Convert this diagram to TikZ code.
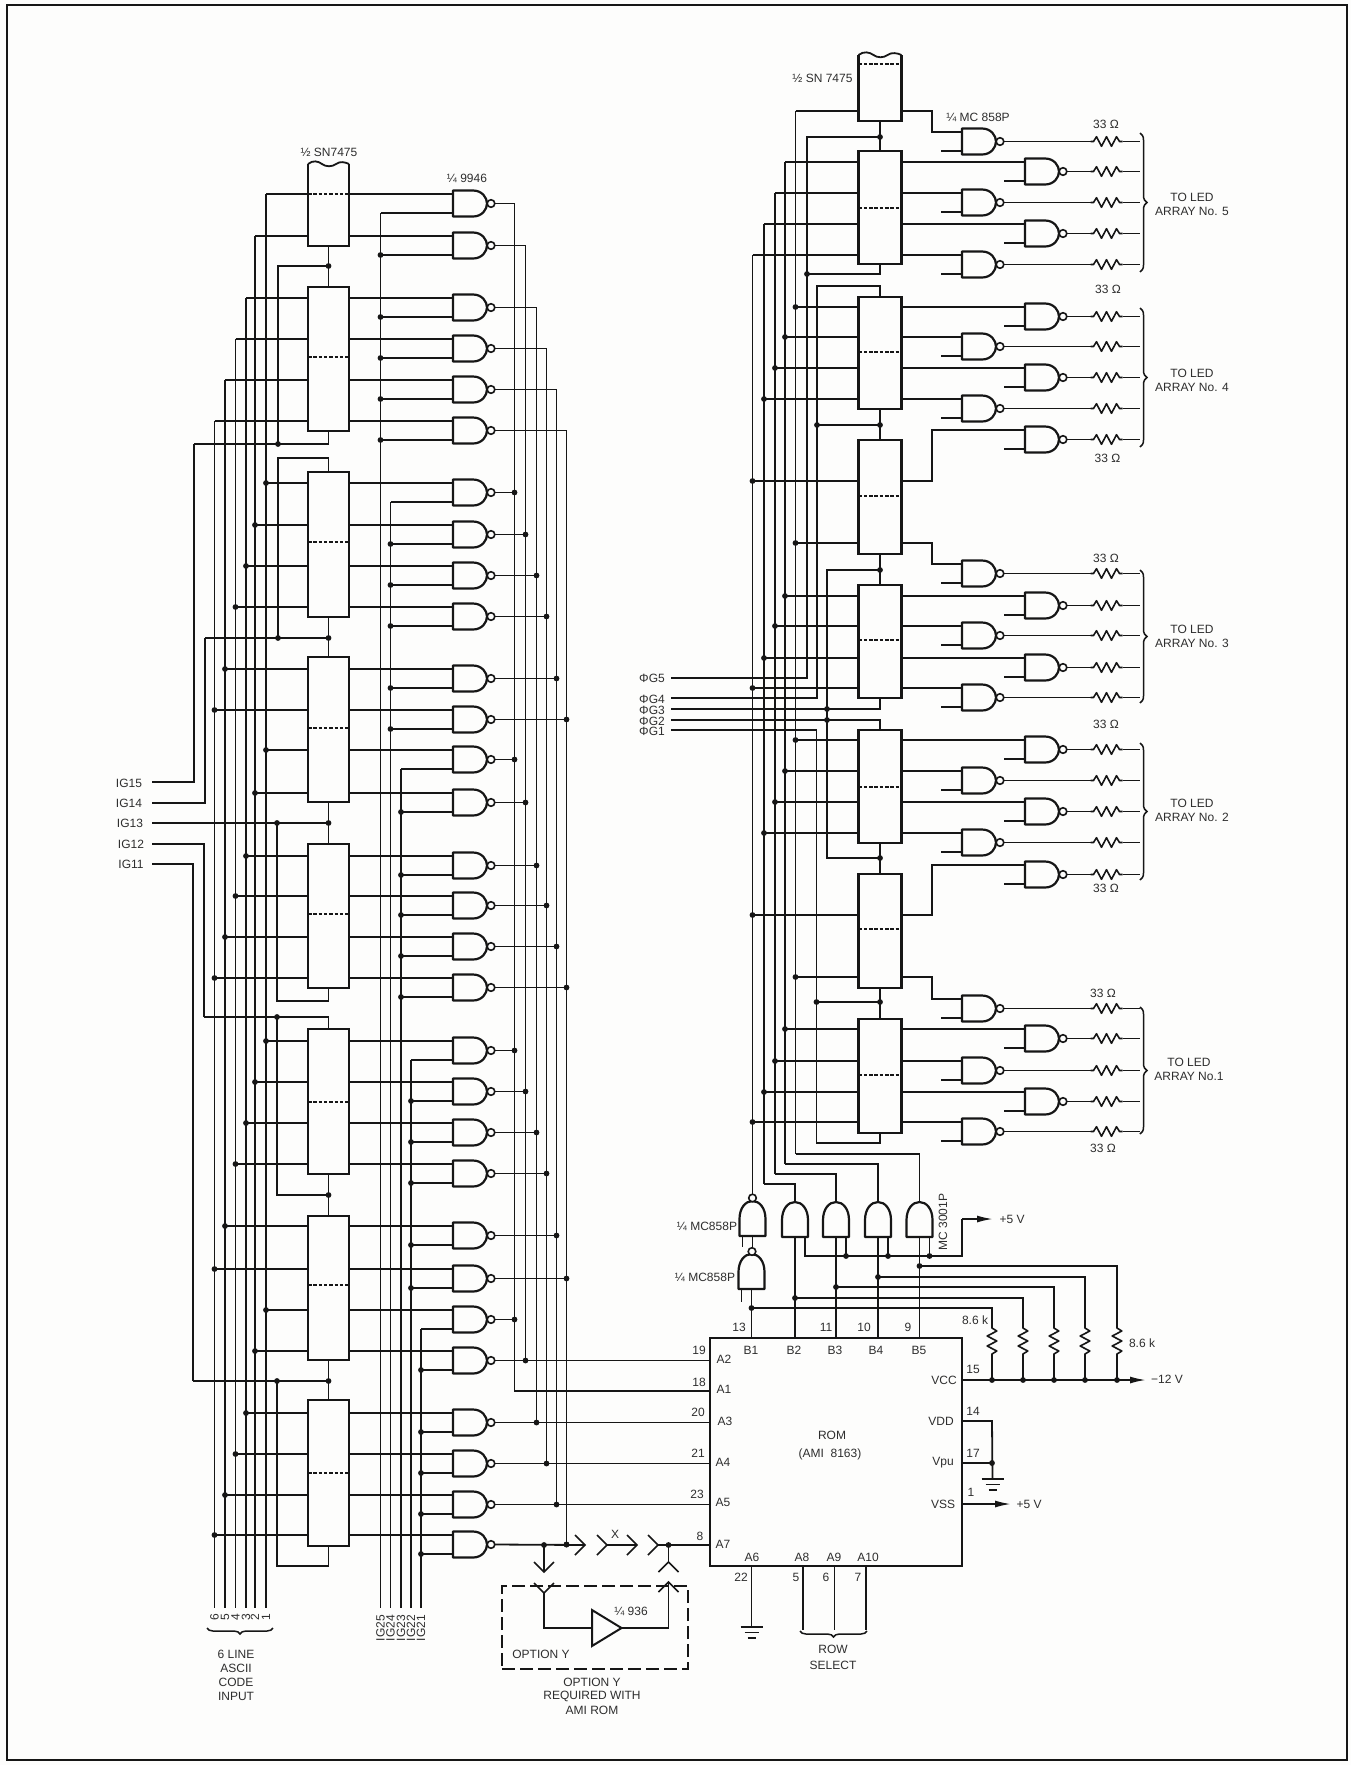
\documentclass[tikz,border=0pt]{standalone}
\usepackage{fontspec}
\setmainfont{Liberation Sans}
\usetikzlibrary{arrows.meta,decorations.pathreplacing,calc}
\definecolor{ink}{HTML}{161616}
\definecolor{txtc}{HTML}{2E2E2E}
\definecolor{paper}{HTML}{FDFDFC}
\newcounter{labn}
\newcommand\lab[3][]{\stepcounter{labn}\node[lbl,#1] (t\arabic{labn}) at (#2) {#3};}
\newcommand\jdot[1]{\fill[ink] (#1) circle[radius=2.9];}
\tikzset{
  wire/.style={draw=ink,line width=1.8pt},
  heavy/.style={draw=ink,line width=2.4pt},
  lbl/.style={text=txtc,font=\fontsize{12}{13}\selectfont,inner sep=0pt,outer sep=0pt,align=center},
  chipbox/.style={heavy,rectangle,inner sep=0pt,outer sep=0pt,fill=none},
  chiphid/.style={rectangle,inner sep=0pt,outer sep=0pt},
  midcut/.style={draw=ink,line width=1.8pt,dash pattern=on 3.5pt off 1.8pt},
  bracel/.style={draw=ink,line width=1.5pt,decorate,decoration={brace,amplitude=7pt}},
  pwr/.style={wire,-{Latex[length=16pt,width=7pt]}},
  nandg/.pic={
    \coordinate (-in1) at (0,-9.5);
    \coordinate (-in2) at (0,9.5);
    \coordinate (-out) at (42,0);
    \draw[ink,line width=2.2pt,line join=round] (0,-13) -- (20,-13) .. controls (29,-13) and (34,-6) .. (34,0)
       .. controls (34,6) and (29,13) .. (20,13) -- (0,13) -- cycle;
    \draw[ink,line width=1.6pt,fill=paper] (38,0) circle[radius=3.8];
  },
  andv/.pic={
    \coordinate (-top) at (0,-35);
    \coordinate (-bot) at (0,0);
    \coordinate (-leg) at (10,0);
    \coordinate (-stub) at (-10,0);
    \draw[ink,line width=2.2pt,line join=round] (-13,0) -- (-13,-17) .. controls (-13,-28) and (-7,-35) .. (0,-35)
       .. controls (7,-35) and (13,-28) .. (13,-17) -- (13,0) -- cycle;
  },
  zres/.pic={
    \coordinate (-a) at (0,0);
    \coordinate (-b) at (32,0);
    \draw[ink,line width=1.6pt,line join=round] (0,0) -- (3,0) -- (6,-4.8) -- (11,4.8) -- (16,-4.8) -- (21,4.8) -- (26,-4.8) -- (29,0) -- (32,0);
  },
  chev/.pic={
    \coordinate (-tip) at (0,0);
    \draw[ink,line width=1.6pt] (-10,-10) -- (0,0) -- (-10,10);
  },
  gnd/.pic={
    \coordinate (-top) at (0,0);
    \draw[ink,line width=1.6pt] (-11,0) -- (11,0) (-7,5.5) -- (7,5.5) (-4,11) -- (4,11);
  },
}
\begin{document}
\begin{tikzpicture}[x=1pt,y=-1pt]
\useasboundingbox (0,0) rectangle (1351,1765);
\fill[paper] (0,0) rectangle (1351,1765);
\draw[ink,line width=2.6pt] (7,5) rectangle (1347,1760);

% ---- named bus columns
\foreach \i/\x in {1/266,2/255,3/246,4/235.5,5/225,6/214.5}{\coordinate (lb\i) at (\x,0);}
\foreach \i/\x in {1/380.5,2/390.5,3/401,4/411,5/421}{\coordinate (ib\i) at (\x,0);}
\foreach \i/\x in {1/514.5,2/525.5,3/536.5,4/546.5,5/556.5,6/566.5}{\coordinate (ob\i) at (\x,0);}
\foreach \i/\x in {1/752.5,2/764,3/775,4/785,5/795.5}{\coordinate (rb\i) at (\x,0);}
\coordinate (busend) at (0,1608);

% ---- left registers
\node[chiphid,minimum width=41pt,minimum height=82pt] (L0) at (328.5,205) {};
\draw[heavy] (L0.north west) -- (L0.south west) -- (L0.south east) -- (L0.north east);
\draw[wire] (L0.north west) .. controls +(5,-4) and +(-4,-3) .. ++(14,0) .. controls +(4,3) and +(-4,3) .. ++(14,0) .. controls +(4,-3) and +(-4,-2) .. ++(13,0);
\draw[midcut] (308,194) -- (349,194);
\foreach \nm/\t/\b/\d in {L1/287/431/357,L2/472/617/542,L3/657/802/728,L4/844/988/914,L5/1029/1174/1102,L6/1216/1360/1285,L7/1400/1546/1473}{
  \node[chipbox,minimum width=41pt,minimum height={(\b-\t)*1pt}] (\nm) at (328.5,{(\t+\b)/2}) {};
  \draw[midcut] (308,\d) -- (349,\d);
}

% ---- ROM
\node[chipbox,minimum width=252pt,minimum height=228pt] (ROM) at (836,1452) {};

% ---- left gates
\foreach \n/\y/\chip in {0/194/L0,1/236/L0,2/298/L1,3/339/L1,4/380/L1,5/421/L1,
  6/483/L2,7/525/L2,8/566/L2,9/607/L2,10/669/L3,11/710/L3,12/750/L3,13/793/L3,
  14/856/L4,15/896/L4,16/937/L4,17/978/L4,18/1041/L5,19/1082/L5,20/1123/L5,21/1164/L5,
  22/1226/L6,23/1269/L6,24/1310/L6,25/1351/L6,26/1413/L7,27/1454/L7,28/1495/L7,29/1535/L7}{
  \pgfmathtruncatemacro\bb{mod(\n,6)+1}
  \pgfmathtruncatemacro\ii{int(\n/6)+1}
  \pgfmathtruncatemacro\mm{mod(\n,6)}
  \pic (G\n) at (453,{\y+9.5}) {nandg};
  \draw[wire] (\chip.east |- G\n-in1) -- (G\n-in1);
  \draw[wire] (lb\bb |- G\n-in1) -- (\chip.west |- G\n-in1);
  \draw[wire] (ib\ii |- G\n-in2) -- (G\n-in2);
  \draw[wire] (G\n-out) -- (ob\bb |- G\n-out);
  \ifnum\n>5 \jdot{lb\bb |- G\n-in1}\jdot{ob\bb |- G\n-out}\fi
  \ifnum\mm>0 \jdot{ib\ii |- G\n-in2}\fi
}
% verticals of input buses
\foreach \i/\g in {1/0,2/1,3/2,4/3,5/4,6/5}{\draw[wire] (lb\i |- G\g-in1) -- (lb\i |- busend);}
\foreach \i/\g in {1/0,2/6,3/12,4/18,5/24}{\draw[wire] (ib\i |- G\g-in2) -- (ib\i |- busend);}
% verticals of output buses
\coordinate (A1pin) at (710,1391);
\draw[wire] (ob1 |- G0-out) |- (A1pin);
\foreach \i/\g/\e in {2/1/25,3/2/26,4/3/27,5/4/28}{
  \draw[wire] (ob\i |- G\g-out) -- (ob\i |- G\e-out);
  \draw[wire] (ob\i |- G\e-out) -- (ROM.west |- G\e-out);
}
\draw[wire] (ob6 |- G5-out) -- (ob6 |- G29-out);

% ---- left clock wiring
\coordinate (sL) at (278,0);
\coordinate (ja) at (328.5,266); \coordinate (jb) at (278,266); \coordinate (jc) at (278,444);
\coordinate (e15) at (194,444); \coordinate (n15) at (152,782);
\coordinate (e14) at (205,638); \coordinate (n14) at (152,803);
\coordinate (n13) at (152,823); \coordinate (e12) at (204,1017); \coordinate (n12) at (152,844);
\coordinate (e11) at (193,1381); \coordinate (n11) at (152,864);
\draw[wire] (L0.south) -- (L1.north);
\draw[wire] (ja) -- (jb) -- (jc);
\draw[wire] (L1.south) |- (e15); \draw[wire] (e15) |- (n15);
\coordinate (ka) at (278,458); \coordinate (kb) at (278,638); \coordinate (kc) at (328.5,638);
\draw[wire] (L2.north) |- (ka) -- (kb);
\draw[wire] (L2.south) -- (L3.north);
\draw[wire] (kc) -- (e14); \draw[wire] (e14) |- (n14);
\coordinate (ma) at (277,823); \coordinate (mb) at (328.5,823); \coordinate (mc) at (277,1001); \coordinate (md) at (328.5,1001);
\draw[wire] (L3.south) -- (L4.north);
\draw[wire] (n13) -- (mb);
\draw[wire] (ma) -- (mc) -- (md) -- (L4.south);
\coordinate (pa) at (277,1017); \coordinate (pb) at (277,1195); \coordinate (pc) at (328.5,1195);
\draw[wire] (L5.north) |- (e12); \draw[wire] (e12) |- (n12);
\draw[wire] (pa) -- (pb) -- (pc);
\draw[wire] (L5.south) -- (L6.north);
\coordinate (qa) at (328.5,1381); \coordinate (qb) at (277,1381); \coordinate (qc) at (277,1566); \coordinate (qd) at (328.5,1566);
\draw[wire] (L6.south) -- (L7.north);
\draw[wire] (qa) -- (e11); \draw[wire] (e11) |- (n11);
\draw[wire] (qb) -- (qc) -- (qd) -- (L7.south);
\foreach \c in {ja,jc,kb,kc,ma,mb,pa,pc,qa,qb}{\jdot{\c}}

% ---- right registers
\node[chiphid,minimum width=43pt,minimum height=66pt] (R0) at (880,88) {};
\draw[heavy] (R0.north west) -- (R0.south west) -- (R0.south east) -- (R0.north east);
\draw[wire] (R0.north west) .. controls +(5,-4) and +(-4,-3) .. ++(15,0) .. controls +(4,3) and +(-4,3) .. ++(14,0) .. controls +(4,-3) and +(-4,-2) .. ++(14,0);
\draw[midcut] (858.5,64) -- (901.5,64);
\foreach \nm/\t/\b/\d in {R1/151/264/208,R2/297/409/352,R3/440/554/496,R4/585/698/640,R5/730/843/787,R6/874/988/929,R7/1019/1133/1075}{
  \node[chipbox,minimum width=43pt,minimum height={(\b-\t)*1pt}] (\nm) at (880,{(\t+\b)/2}) {};
  \draw[midcut] (858.5,\d) -- (901.5,\d);
}

% ---- right gates (normal)
\foreach \n/\cx/\y/\chip/\bb in {2/1025/162/R1/4,3/962/193/R1/3,4/1025/224/R1/2,5/962/255/R1/1,
  6/1025/307/R2/5,7/962/337/R2/4,8/1025/368/R2/3,9/962/399/R2/2,
  12/1025/596/R4/4,13/962/626/R4/3,14/1025/658/R4/2,15/962/688/R4/1,
  16/1025/740/R5/5,17/962/771/R5/4,18/1025/802/R5/3,19/962/833/R5/2,
  22/1025/1029/R7/4,23/962/1061/R7/3,24/1025/1092/R7/2,25/962/1122/R7/1}{
  \pic (Q\n) at (\cx,{\y+9.5}) {nandg};
  \draw[wire] (\chip.east |- Q\n-in1) -- (Q\n-in1);
  \draw[wire] (rb\bb |- Q\n-in1) -- (\chip.west |- Q\n-in1);
  \ifnum\n>5 \jdot{rb\bb |- Q\n-in1}\fi
}
% ---- right gates fed through an elbow
\foreach \n/\cx/\y/\chip/\cy/\bb/\dd in {1/962/132/R0/111/5/0,10/1025/430/R3/481/1/1,11/962/564/R3/543/5/1,20/1025/865/R6/915/1/1,21/962/999/R6/977/5/1}{
  \pic (Q\n) at (\cx,{\y+9.5}) {nandg};
  \coordinate (cw\n) at (880,\cy);
  \coordinate (el\n) at (932,\cy);
  \draw[wire] (\chip.east |- cw\n) -- (el\n) |- (Q\n-in1);
  \draw[wire] (rb\bb |- cw\n) -- (\chip.west |- cw\n);
  \ifnum\dd>0 \jdot{rb\bb |- cw\n}\fi
}
% stubs, resistors and outputs
\foreach \n in {1,...,25}{
  \draw[wire] (Q\n-in2) -- ++(-21,0);
  \pic (Z\n) at (1090.5,0 |- Q\n-out) {zres};
  \draw[wire] (Q\n-out) -- (Z\n-a);
  \draw[wire] (Z\n-b) -- ++(17,0);
}
% right bus verticals
\coordinate (ua) at (752.5,1194);
\draw[wire] (rb1 |- Q5-in1) -- (ua);
\coordinate (u2) at (764,1184); \coordinate (u3) at (775,1174); \coordinate (u4) at (785,1164); \coordinate (u5) at (795.5,1154);
\draw[wire] (rb2 |- Q4-in1) -- (u2);
\draw[wire] (rb3 |- Q3-in1) -- (u3);
\draw[wire] (rb4 |- Q2-in1) -- (u4);
\draw[wire] (rb5 |- cw1) -- (u5);

% ---- right clock wiring
\coordinate (h1) at (880,137); \coordinate (h2) at (807,137); \coordinate (h3) at (807,274); \coordinate (f5) at (807,678); \coordinate (n5) at (671,678);
\draw[wire] (R0.south) -- (R1.north);
\draw[wire] (h1) -- (h2) -- (f5) -- (n5);
\draw[wire] (R1.south) |- (h3);
\coordinate (i1) at (817,286); \coordinate (f4) at (817,698); \coordinate (n4) at (671,698); \coordinate (i2) at (817,425); \coordinate (i3) at (880,425);
\draw[wire] (R2.north) |- (i1) -- (f4) -- (n4);
\draw[wire] (R2.south) -- (R3.north);
\draw[wire] (i2) -- (i3);
\coordinate (k1) at (880,570); \coordinate (k2) at (827,570); \coordinate (k3) at (827,858); \coordinate (k4) at (880,858);
\coordinate (n3) at (671,709); \coordinate (n2) at (671,720); \coordinate (k5) at (827,709); \coordinate (k6) at (827,720);
\draw[wire] (R3.south) -- (R4.north);
\draw[wire] (k1) -- (k2) -- (k3) -- (k4);
\draw[wire] (R4.south) |- (n3);
\draw[wire] (R5.north) |- (n2);
\draw[wire] (R5.south) -- (R6.north);
\coordinate (l1) at (816.5,730); \coordinate (n1) at (671,730); \coordinate (l2) at (816.5,1143); \coordinate (l3) at (880,1143); \coordinate (l4) at (816.5,1002); \coordinate (l5) at (880,1002);
\draw[wire] (n1) -- (l1) -- (l2) -- (l3) -- (R7.south);
\draw[wire] (R6.south) -- (R7.north);
\draw[wire] (l4) -- (l5);
\foreach \c in {h1,h3,i2,i3,k1,k4,k5,k6,l4,l5}{\jdot{\c}}

% ---- braces
\draw[bracel] (1140,133) -- (1140,272);
\draw[bracel] (1140,308) -- (1140,447);
\draw[bracel] (1140,570) -- (1140,703);
\draw[bracel] (1140,743) -- (1140,880);
\draw[bracel] (1140,1007) -- (1140,1134);
\foreach \y/\s in {197/5,373/4,629/3,803/2}{
  \lab{1192,\y}{TO LED}
  \lab{1192,\y+14}{ARRAY No. \s}
}
\lab{1189,1062}{TO LED}
\lab{1189,1076}{ARRAY No.1}
\foreach \x/\y in {1106/124,1108/289,1107.5/458,1106/558,1106/724,1106/888,1103/993,1103/1148}{\lab{\x,\y}{33 Ω}}

% ---- vertical gates above ROM
\pic (U1) at (752.5,1236) {andv};
\pic (U0) at (751.5,1289) {andv};
\pic (U2) at (795,1237) {andv};
\pic (U3) at (836,1237) {andv};
\pic (U4) at (878,1237) {andv};
\pic (U5) at (919.5,1237) {andv};
\draw[ink,line width=1.6pt,fill=paper] (752.5,1198) circle[radius=3.8];
\draw[ink,line width=1.6pt,fill=paper] (752,1251.5) circle[radius=3.8];
\draw[wire] (U1-bot) -- ++(0,11.5);
\draw[wire] (U1-stub) -- ++(0,11);
\draw[wire] (U0-stub) -- ++(0,13);
\draw[wire] (u2) -| (U2-top);
\draw[wire] (u3) -| (U3-top);
\draw[wire] (u4) -| (U4-top);
\draw[wire] (u5) -| (U5-top);
\coordinate (rail) at (962,1256); \coordinate (plus) at (962,1219); \coordinate (plusend) at (993,1219);
\draw[wire] (U2-leg) |- (rail) -- (plus);
\draw[pwr] (plus) -- (plusend);
\foreach \g in {3,4,5}{\draw[wire] (U\g-leg) -- (U\g-leg |- rail); \jdot{U\g-leg |- rail}}
% lines to ROM
\foreach \g in {0,2,3,4,5}{\draw[wire] (U\g-bot) -- (U\g-bot |- ROM.north);}
% pull-up resistors
\coordinate (vcc) at (962,1380); \coordinate (vccend) at (1146,1380);
\draw[pwr] (vcc) -- (vccend);
\foreach \g/\x/\y in {0/992/1308,2/1023/1298,3/1054/1287,4/1085/1277,5/1117/1266}{
  \coordinate (h\g) at (U\g-bot |- 0,\y);
  \pic[rotate=-90] (P\g) at (\x,1325) {zres};
  \draw[wire] (h\g) -| (P\g-a);
  \draw[wire] (P\g-b) -- (P\g-b |- vcc);
  \jdot{h\g}
  \jdot{P\g-b |- vcc}
}
% VDD, Vpu, ground, VSS
\coordinate (vdd) at (962,1421); \coordinate (vddc) at (992,1421); \coordinate (vpu) at (962,1463); \coordinate (vpuc) at (992,1463); \coordinate (vss) at (962,1504); \coordinate (vssend) at (1011,1504);
\pic (GN1) at (992.5,1479) {gnd};
\draw[wire] (vdd) -- (vddc) -- (GN1-top);
\draw[wire] (vpu) -- (vpuc);
\jdot{vpuc}
\draw[pwr] (vss) -- (vssend);
\pic (GN2) at (751.5,1627) {gnd};
\coordinate (a6) at (751.5,1566);
\draw[wire] (a6) -- (GN2-top);
% row select
\coordinate (a8) at (803,1566); \coordinate (a8e) at (803,1630);
\coordinate (a9) at (834.5,1566); \coordinate (a9e) at (834.5,1630);
\coordinate (a10) at (866,1566); \coordinate (a10e) at (866,1630);
\draw[wire] (a8) -- (a8e); \draw[wire] (a9) -- (a9e); \draw[wire] (a10) -- (a10e);
\draw[bracel,decoration={brace,amplitude=6pt}] (867,1631) -- (800,1631);

% ---- connectors at A7
\pic (C1) at (585,1545) {chev};
\pic (C2) at (607,1545) {chev};
\pic (C3) at (637,1545) {chev};
\pic (C4) at (658,1545) {chev};
\pic[rotate=-90] (C5) at (544,1572) {chev};
\pic[rotate=-90] (C6) at (544,1593) {chev};
\pic[rotate=90] (C7) at (668.5,1562) {chev};
\pic[rotate=90] (C8) at (668.5,1582) {chev};
\draw[wire] (G29-out) -- (C1-tip);
\draw[wire] (C2-tip) -- (C3-tip);
\draw[wire] (C4-tip) -- (ROM.west |- C4-tip);
\coordinate (d1) at (544,1545); \coordinate (d2) at (668.5,1545);
\draw[wire] (d1) -- (C5-tip);
\draw[wire] (d2) -- (C7-tip);
\jdot{d1}\jdot{ob6 |- G29-out}\jdot{d2}
% option Y
\node[draw=ink,line width=1.5pt,dash pattern=on 13pt off 5pt,rectangle,inner sep=0pt,minimum width=186pt,minimum height=83pt] (optbox) at (595,1627.5) {};
\draw[ink,line width=2pt,line join=miter] (592,1610) -- (621.5,1628) -- (592,1646) -- cycle;
\coordinate (bi) at (592,1628); \coordinate (bo) at (621.5,1628);
\draw[wire] (C6-tip) |- (bi);
\draw[wire] (bo) -| (C8-tip);

% ---- texts left
\lab{329,152}{½ SN7475}
\lab{467,178}{¼ 9946}
\lab{129,783}{IG15}
\lab{129,803}{IG14}
\lab{130,823}{IG13}
\lab{131,844}{IG12}
\lab{131,864}{IG11}
\foreach \x/\s in {266/1,255/2,246/3,235.5/4,225/5,214.5/6}{\lab[rotate=90]{\x,1617}{\s}}
\foreach \x/\s in {380.5/25,390.5/24,401/23,411/22,421/21}{\lab[rotate=90]{\x,1628}{IG\s}}
\draw[bracel,decoration={brace,amplitude=6pt}] (273,1628) -- (207,1628);
\lab{236,1654}{6 LINE}
\lab{236,1668}{ASCII}
\lab{236,1682}{CODE}
\lab{236,1696}{INPUT}
\lab{615,1534}{X}
\lab{631,1611}{¼ 936}
\lab{541,1654}{OPTION Y}
\lab{592,1682}{OPTION Y}
\lab{592,1696}{REQUIRED WITH}
\lab{592,1710}{AMI ROM}
\foreach \y/\s in {678/5,699/4,710/3,721/2,731/1}{\lab{652,\y}{ΦG\s}}

% ---- texts right
\lab{822.5,78}{½ SN 7475}
\lab{978,117}{¼ MC 858P}
\lab{707,1226}{¼ MC858P}
\lab{705,1277}{¼ MC858P}
\lab[rotate=90]{943,1222}{MC 3001P}
\lab{1012,1219}{+5 V}
\lab{832,1435}{ROM}
\lab{830,1454}{(AMI\ \ 8163)}
\foreach \x/\y/\s in {699/1350/19,699/1382/18,698/1412/20,698/1453/21,697/1494/23,700/1536/8,
  739/1327/13,826/1327/11,864/1327/10,908/1327/9,973/1369/15,973/1411/14,973/1453/17,971/1492/1,
  741/1577/22,796/1577/5,826/1577/6,858/1577/7}{\lab{\x,\y}{\s}}
\foreach \x/\y/\s in {724/1359/A2,724/1389/A1,725/1421/A3,723/1462/A4,723/1502/A5,723/1544/A7,
  751/1350/B1,794/1350/B2,835/1350/B3,876/1350/B4,919/1350/B5,
  752/1557/A6,802/1557/A8,834/1557/A9,868/1557/A10}{\lab{\x,\y}{\s}}
\lab{944,1380}{VCC}
\lab{941,1421}{VDD}
\lab{943,1463}{Vpu}
\lab{943,1504}{VSS}
\lab{1029,1504}{+5 V}
\lab{1167,1379}{−12 V}
\lab{975,1320}{8.6 k}
\lab{1142,1343}{8.6 k}
\lab{833,1649}{ROW}
\lab{833,1665}{SELECT}
\end{tikzpicture}
\end{document}
